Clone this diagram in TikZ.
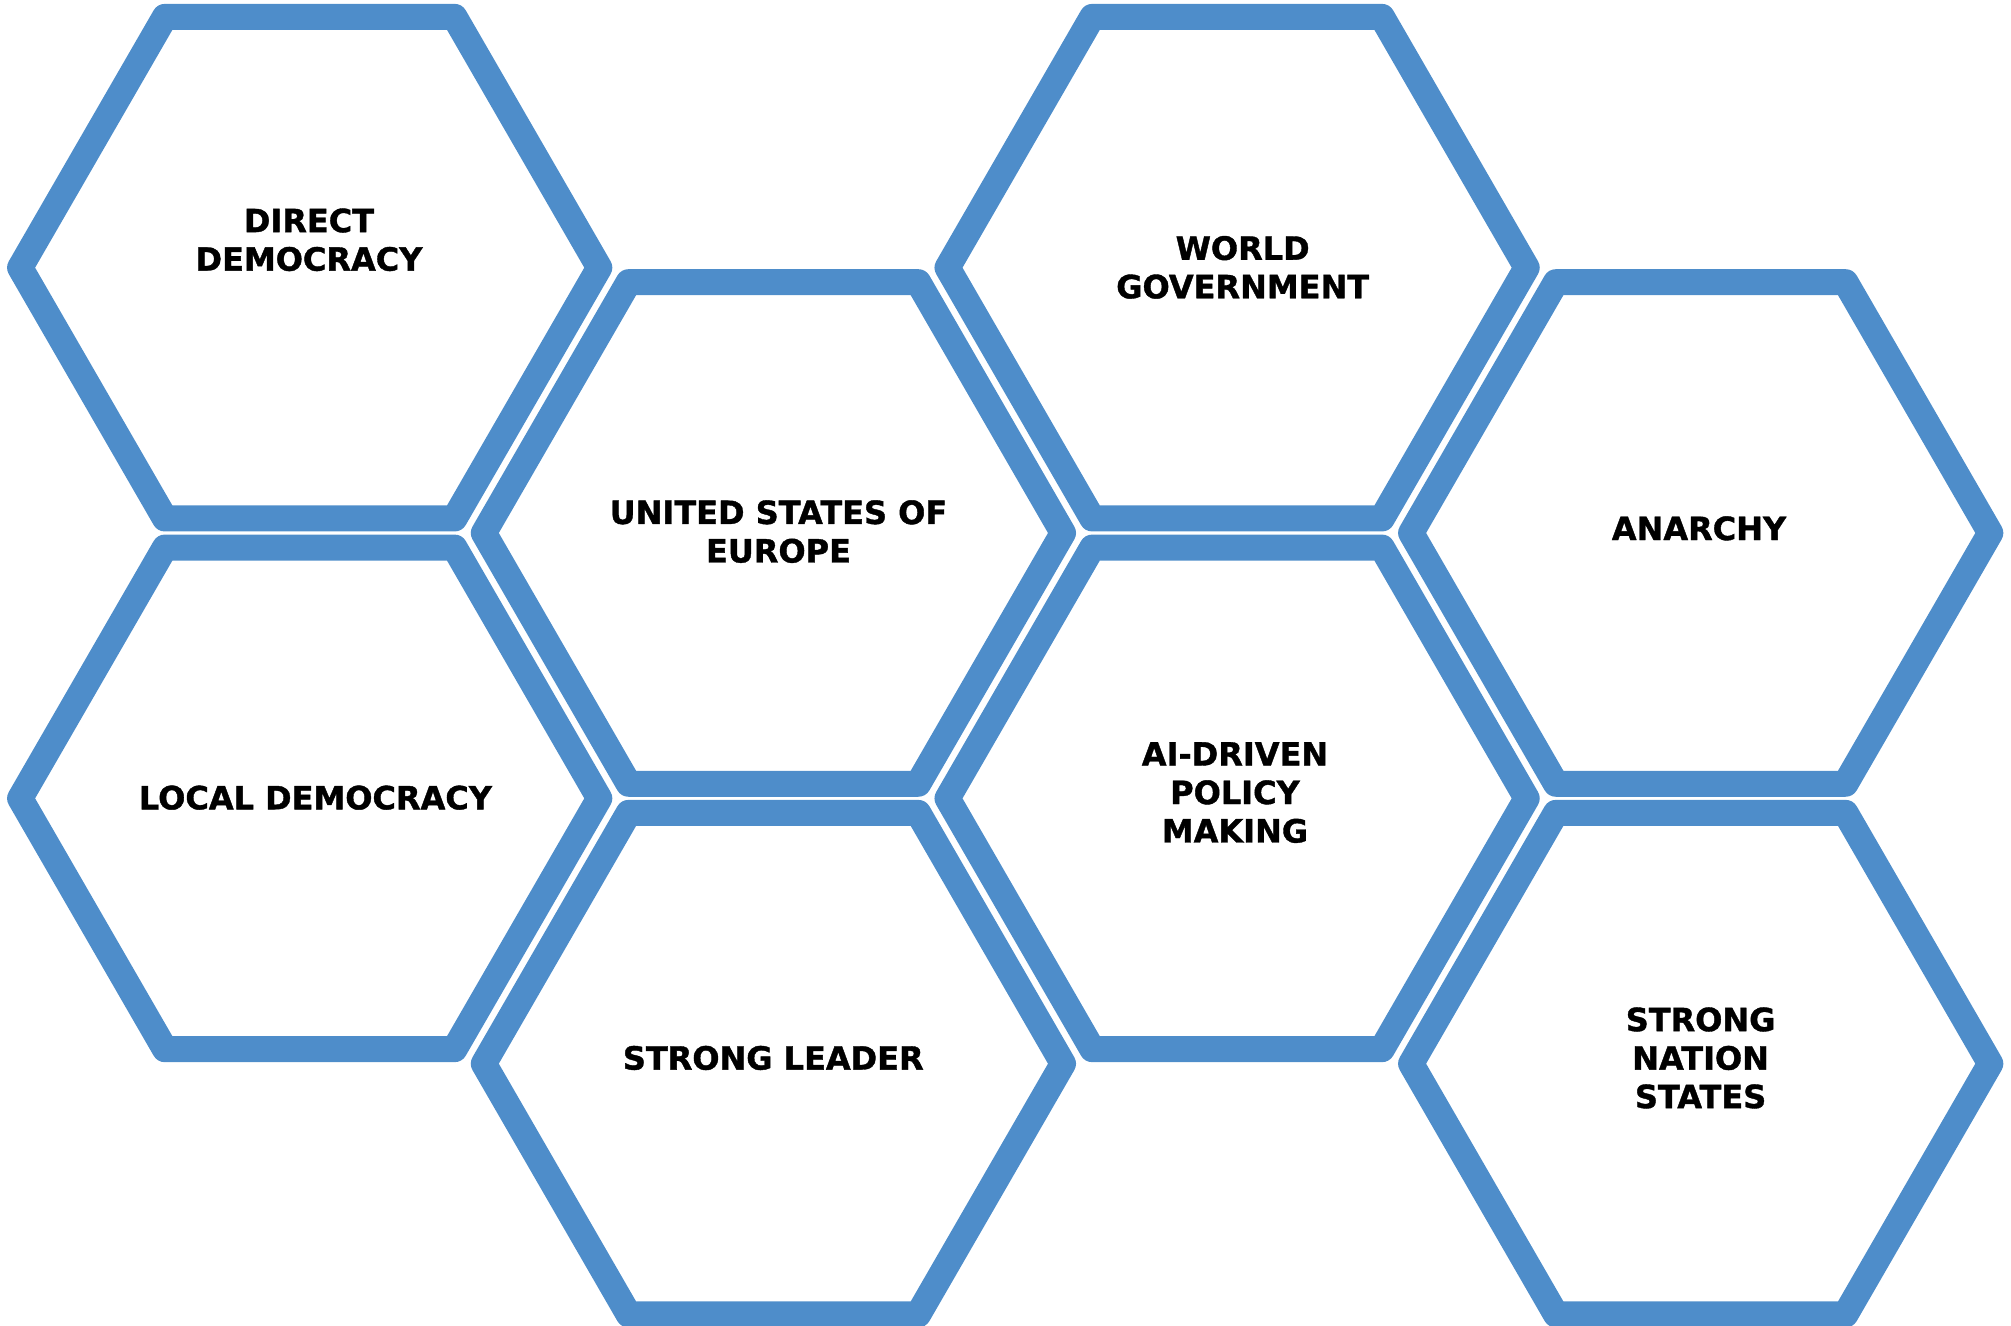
\documentclass[tikz,border=0pt]{standalone}
\usepackage{fontspec}
\setmainfont{DejaVu Sans}[BoldFeatures={FakeBold=1.2}]
\usetikzlibrary{shapes.geometric}
\definecolor{hexblue}{RGB}{78,141,202}

\begin{document}
\begin{tikzpicture}[
  hexcell/.style={draw=hexblue, line width=0.26cm, line join=round, regular polygon, regular polygon sides=6, minimum size=5.792cm, inner sep=0pt, outer sep=0pt},
  hexlabel/.style={font=\fontsize{9.1}{10.95}\selectfont\bfseries, align=center, text=black}
]
\useasboundingbox (0,0) rectangle (20.11,13.26);

% Honeycomb cells
\node[hexcell] (dd)  at (3.097,10.583) {};
\node[hexcell] (use) at (7.734,7.930) {};
\node[hexcell] (wg)  at (12.371,10.583) {};
\node[hexcell] (an)  at (17.007,7.930) {};
\node[hexcell] (ld)  at (3.097,5.276) {};
\node[hexcell] (sl)  at (7.734,2.623) {};
\node[hexcell] (ai)  at (12.371,5.276) {};
\node[hexcell] (sns) at (17.007,2.623) {};

% Labels
\node[hexlabel] (dd-text)  at (3.090,10.862) {DIRECT\\DEMOCRACY};
\node[hexlabel] (use-text) at (7.785,7.944) {UNITED STATES OF\\EUROPE};
\node[hexlabel] (wg-text)  at (12.427,10.586) {WORLD\\GOVERNMENT};
\node[hexlabel] (an-text)  at (16.990,7.976) {ANARCHY};
\node[hexlabel] (ld-text)  at (3.155,5.283) {LOCAL DEMOCRACY};
\node[hexlabel] (ai-text)  at (12.350,5.334) {AI-DRIVEN\\POLICY\\MAKING};
\node[hexlabel] (sl-text)  at (7.733,2.680) {STRONG LEADER};
\node[hexlabel] (sns-text) at (17.006,2.680) {STRONG\\NATION\\STATES};

\end{tikzpicture}
\end{document}
